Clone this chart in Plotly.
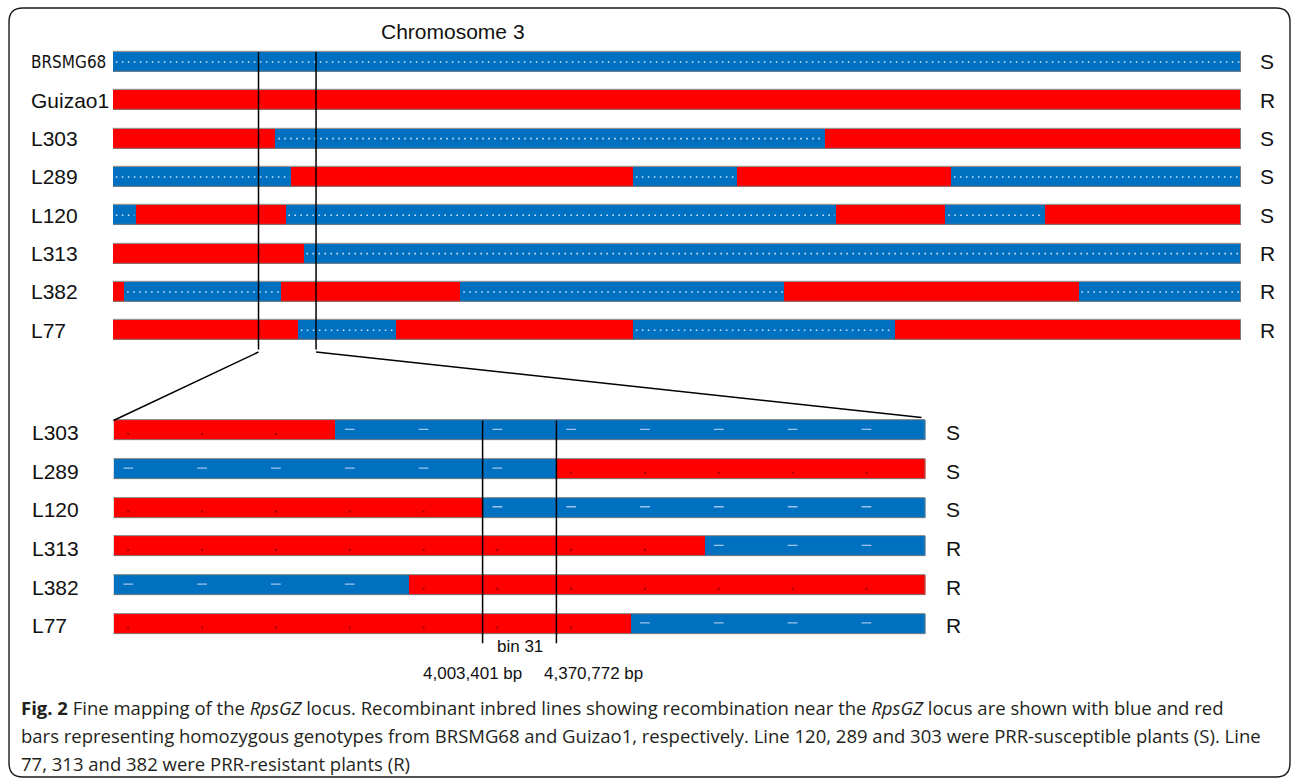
import plotly.graph_objects as go

# ---------------------------------------------------------------- data
# Whole chromosome 3 (positions as percent of chromosome length)
top_names = ["BRSMG68", "Guizao1", "L303", "L289", "L120", "L313", "L382", "L77"]
top_phenotype = ["S", "R", "S", "S", "S", "R", "R", "R"]
top_first_parent = ["B", "G", "G", "B", "B", "G", "G", "G"]  # B = BRSMG68, G = Guizao1
top_breakpoints = [
    [],
    [],
    [14.4, 63.1],
    [15.8, 46.1, 55.3, 74.3],
    [2.0, 15.3, 64.1, 73.8, 82.6],
    [16.9],
    [1.0, 14.9, 30.8, 59.5, 85.6],
    [16.4, 25.1, 46.1, 69.3],
]
top_span = [0, 100]
zoom_window = [12.9, 18.0]  # region expanded below

# Fine-mapping region (positions in bin units, bins 26-36)
fine_names = ["L303", "L289", "L120", "L313", "L382", "L77"]
fine_phenotype = ["S", "S", "S", "R", "R", "R"]
fine_first_parent = ["G", "B", "G", "G", "B", "G"]
fine_breakpoints = [[29], [32], [31], [34], [30], [33]]
fine_bins = list(range(26, 37))
target_bin = 31
target_bin_bounds = ["4,003,401 bp", "4,370,772 bp"]

# ---------------------------------------------------------------- style / geometry
W, H = 1295, 780
BLUE, RED = "#0070C0", "#FF0000"
COLORS = {"B": BLUE, "G": RED}
FONT = "Liberation Sans"
TXT = "#111111"
LABEL_SIZE = 21

TOP_X0, TOP_X1 = 113.0, 1241.0
TOP_ROW0, TOP_STEP = 62.0, 38.33
BOT_X0, BOT_X1 = 113.5, 925.5
BOT_ROW0, BOT_STEP = 430.5, 38.7
BAR_PX = 20.0


def px(x):
    return x / W


def py(y):
    return 1 - y / H


def y_domain(row0, step, n):
    top = row0 - step / 2
    bottom = row0 + (n - 0.5) * step
    return [py(bottom), py(top)]


def segments(breaks, first, lo, hi):
    edges = [lo] + list(breaks) + [hi]
    out = []
    g = first
    for a, b in zip(edges[:-1], edges[1:]):
        out.append((a, b, g))
        g = "G" if g == "B" else "B"
    return out


fig = go.Figure()


def add_panel(names, firsts, breaks, lo, hi, xa, ya, step):
    bw = BAR_PX / step
    segs_all = [segments(b, f, lo, hi) for b, f in zip(breaks, firsts)]
    for g in ("B", "G"):
        ys, bases, lens = [], [], []
        for i, segs in enumerate(segs_all):
            for a, b, gg in segs:
                if gg == g:
                    ys.append(i)
                    bases.append(a)
                    lens.append(b - a)
        fig.add_trace(go.Bar(
            orientation="h", y=ys, x=lens, base=bases, width=bw,
            marker=dict(color=COLORS[g], line=dict(width=0)),
            xaxis=xa, yaxis=ya, showlegend=False, hoverinfo="skip"))
    return segs_all


def add_outline(n, lo, hi, xa, ya, step):
    bw = BAR_PX / step
    fig.add_trace(go.Bar(
        orientation="h", y=list(range(n)), x=[hi - lo] * n, base=[lo] * n, width=bw,
        marker=dict(color="rgba(0,0,0,0)", line=dict(color="#7d7d7d", width=1)),
        xaxis=xa, yaxis=ya, showlegend=False, hoverinfo="skip"))


# ---- whole chromosome
top_segs = add_panel(top_names, top_first_parent, top_breakpoints,
                     top_span[0], top_span[1], "x", "y", TOP_STEP)

# dotted texture along the segments
for g, col, dash, wid in (("B", "rgba(215,232,250,0.95)", "1.6px,4.4px", 1.6),
                          ("G", "rgba(120,0,0,0.22)", "1.4px,7.6px", 1.4)):
    xs, ys = [], []
    for i, segs in enumerate(top_segs):
        for a, b, gg in segs:
            if gg == g:
                xs += [a + 0.25, b - 0.1, None]
                ys += [i, i, None]
    fig.add_trace(go.Scatter(x=xs, y=ys, mode="lines",
                             line=dict(color=col, width=wid, dash=dash),
                             xaxis="x", yaxis="y", showlegend=False, hoverinfo="skip"))
add_outline(len(top_names), top_span[0], top_span[1], "x", "y", TOP_STEP)

# ---- fine-mapping region
lo, hi = fine_bins[0], fine_bins[-1] + 1
fine_segs = add_panel(fine_names, fine_first_parent, fine_breakpoints, lo, hi, "x2", "y2", BOT_STEP)

# one marker per bin, styled by parental genotype
mk = {"B": ([], []), "G": ([], [])}
for i, segs in enumerate(fine_segs):
    for b in fine_bins:
        for a, e, g in segs:
            if a <= b + 0.5 < e:
                mk[g][0].append(b + 0.2)
                mk[g][1].append(i - 0.03 if g == "B" else i + 0.09)
fig.add_trace(go.Scatter(x=mk["B"][0], y=mk["B"][1], mode="markers",
                         marker=dict(symbol="line-ew", size=7,
                                     line=dict(color="#9fc5ea", width=1.3)),
                         xaxis="x2", yaxis="y2", showlegend=False, hoverinfo="skip"))
fig.add_trace(go.Scatter(x=mk["G"][0], y=mk["G"][1], mode="markers",
                         marker=dict(symbol="square", size=2, color="#9a0000"),
                         xaxis="x2", yaxis="y2", showlegend=False, hoverinfo="skip"))
add_outline(len(fine_names), lo, hi, "x2", "y2", BOT_STEP)

# ---------------------------------------------------------------- shapes
shapes = []

# rounded frame
fx0, fy0, fx1, fy1, r = 9, 8, 1290, 777, 14
path = (f"M {px(fx0 + r)},{py(fy0)} L {px(fx1 - r)},{py(fy0)} "
        f"Q {px(fx1)},{py(fy0)} {px(fx1)},{py(fy0 + r)} "
        f"L {px(fx1)},{py(fy1 - r)} Q {px(fx1)},{py(fy1)} {px(fx1 - r)},{py(fy1)} "
        f"L {px(fx0 + r)},{py(fy1)} Q {px(fx0)},{py(fy1)} {px(fx0)},{py(fy1 - r)} "
        f"L {px(fx0)},{py(fy0 + r)} Q {px(fx0)},{py(fy0)} {px(fx0 + r)},{py(fy0)} Z")
shapes.append(dict(type="path", path=path, xref="paper", yref="paper",
                   line=dict(color="#1a1a1a", width=1.4), layer="above"))

# zoom window on the chromosome and connectors to the expanded view
half_top = BAR_PX / TOP_STEP / 2
drop_px = 352.0
drop_y = (drop_px - TOP_ROW0) / TOP_STEP
for v in zoom_window:
    shapes.append(dict(type="line", xref="x", yref="y", x0=v, x1=v,
                       y0=-half_top, y1=drop_y, line=dict(color="black", width=1.5),
                       layer="above"))


def top_px(v):
    return TOP_X0 + (v - top_span[0]) / (top_span[1] - top_span[0]) * (TOP_X1 - TOP_X0)


def bot_px(v):
    return BOT_X0 + (v - lo) / (hi - lo) * (BOT_X1 - BOT_X0)


bot_top_px = BOT_ROW0 - BAR_PX / 2
for v_top, v_bot, dy in ((zoom_window[0], lo, 0), (zoom_window[1], hi, -3)):
    shapes.append(dict(type="line", xref="paper", yref="paper",
                       x0=px(top_px(v_top)), y0=py(drop_px),
                       x1=px(bot_px(v_bot) - (4 if dy else 0)), y1=py(bot_top_px + dy),
                       line=dict(color="black", width=1.4)))

# target bin boundaries
half_bot = BAR_PX / BOT_STEP / 2
bin_line_end = (657 - BOT_ROW0) / BOT_STEP
for v in (target_bin, target_bin + 1):
    shapes.append(dict(type="line", xref="x2", yref="y2", x0=v, x1=v,
                       y0=-half_bot, y1=bin_line_end,
                       line=dict(color="black", width=1.5), layer="above"))

# ---------------------------------------------------------------- text
ann = []
lab_font = dict(family=FONT, size=LABEL_SIZE, color=TXT)
ann.append(dict(text="Chromosome 3", x=px(453), y=py(32), xref="paper", yref="paper",
                xanchor="center", yanchor="middle", showarrow=False, font=lab_font))

for i, (nm, ph) in enumerate(zip(top_names, top_phenotype)):
    if nm == "BRSMG68":
        f = dict(family="DejaVu Sans Condensed, Liberation Sans Narrow", size=17, color=TXT)
    else:
        f = lab_font
    ann.append(dict(text=nm, x=px(29), y=i, xref="paper", yref="y",
                    xanchor="left", yanchor="middle", showarrow=False, font=f))
    ann.append(dict(text=ph, x=px(1267), y=i, xref="paper", yref="y",
                    xanchor="center", yanchor="middle", showarrow=False, font=lab_font))

for i, (nm, ph) in enumerate(zip(fine_names, fine_phenotype)):
    ann.append(dict(text=nm, x=px(30), y=i + 0.05, xref="paper", yref="y2",
                    xanchor="left", yanchor="middle", showarrow=False, font=lab_font))
    ann.append(dict(text=ph, x=px(953), y=i + 0.05, xref="paper", yref="y2",
                    xanchor="center", yanchor="middle", showarrow=False, font=lab_font))

small_font = dict(family=FONT, size=17, color=TXT)
ann.append(dict(text=f"bin {target_bin}", x=target_bin + 0.5, y=py(646),
                xref="x2", yref="paper", xanchor="center", yanchor="middle",
                showarrow=False, font=small_font))
for v, lab, shift in ((target_bin, target_bin_bounds[0], -10),
                      (target_bin + 1, target_bin_bounds[1], 37)):
    ann.append(dict(text=lab, x=v, y=py(673), xref="x2", yref="paper", xshift=shift,
                    xanchor="center", yanchor="middle", showarrow=False, font=small_font))

caption = [
    "<b>Fig. 2</b> Fine mapping of the <i>RpsGZ</i> locus. Recombinant inbred lines showing "
    "recombination near the <i>RpsGZ</i> locus are shown with blue and red",
    "bars representing homozygous genotypes from BRSMG68 and Guizao1, respectively. "
    "Line 120, 289 and 303 were PRR-susceptible plants (S). Line",
    "77, 313 and 382 were PRR-resistant plants (R)",
]
for k, line in enumerate(caption):
    ann.append(dict(text=line, x=px(19), y=py(707 + 28 * k), xref="paper", yref="paper",
                    xanchor="left", yanchor="middle", showarrow=False,
                    font=dict(family="Open Sans", size=18.5, color="#231f20")))

hidden = dict(visible=False, showgrid=False, zeroline=False, fixedrange=True)
fig.update_layout(
    width=W, height=H, autosize=False,
    margin=dict(l=0, r=0, t=0, b=0, pad=0),
    paper_bgcolor="white", plot_bgcolor="rgba(0,0,0,0)",
    barmode="overlay", bargap=0,
    xaxis=dict(domain=[px(TOP_X0), px(TOP_X1)], range=top_span, anchor="y", **hidden),
    yaxis=dict(domain=y_domain(TOP_ROW0, TOP_STEP, len(top_names)),
               range=[len(top_names) - 0.5, -0.5], anchor="x", **hidden),
    xaxis2=dict(domain=[px(BOT_X0), px(BOT_X1)], range=[lo, hi], anchor="y2", **hidden),
    yaxis2=dict(domain=y_domain(BOT_ROW0, BOT_STEP, len(fine_names)),
                range=[len(fine_names) - 0.5, -0.5], anchor="x2", **hidden),
    shapes=shapes, annotations=ann,
)

fig.write_html("out.html", config=dict(displayModeBar=False))
